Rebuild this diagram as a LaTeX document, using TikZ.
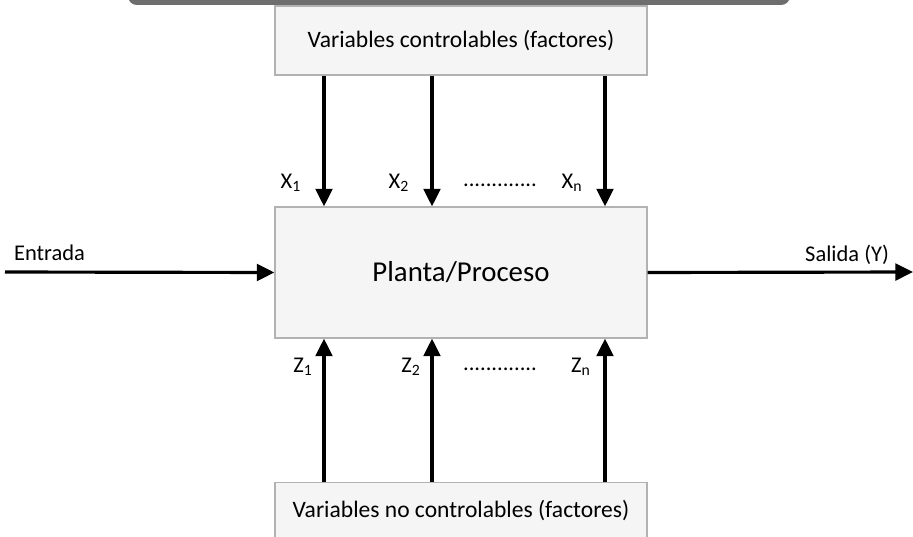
\documentclass[tikz,border=0pt]{standalone}
\usepackage{fontspec}
\setmainfont{Carlito}
\usetikzlibrary{positioning, calc, arrows.meta}

\begin{document}
\begin{tikzpicture}[x=0.02cm,y=-0.02cm,>={Triangle[length=10pt,width=9.5pt]},
    block/.style={draw=black!30, fill=black!4, line width=0.7pt, inner sep=0pt},
    flow/.style={->, line width=1.8pt},
    lbl/.style={font=\fontsize{12.8}{15}\selectfont, inner sep=1pt}]
      \useasboundingbox (0,0) rectangle (913,537);
      % banner strip cut by the top edge
      \fill[black!57, rounded corners=5pt] (128,-20) rectangle (790,5);
      %
      \node[block, minimum width=372*0.02cm, minimum height=69*0.02cm,
            font=\fontsize{13.4}{16}\selectfont] (ctrl) at (461,40.5) {Variables controlables (factores)};
      \node[block, minimum width=372*0.02cm, minimum height=131*0.02cm,
            font=\fontsize{16.4}{19}\selectfont] (plant) at (461,272.5) {Planta/Proceso};
      \node[block, minimum width=372*0.02cm, minimum height=58*0.02cm,
            anchor=north, font=\fontsize{13.4}{16}\selectfont] (noctrl) at (461,482) {};
      \node[font=\fontsize{13.4}{16}\selectfont] (noctrltxt) at (461,511) {Variables no controlables (factores)};
      %
      \coordinate (in) at (5,272);
      \coordinate (out) at (913,272);
      \draw[flow] (in) -- (plant.west);
      \draw[flow] (plant.east) -- (out);
      \node[lbl, anchor=base west] (entrada) at (12,260) {Entrada};
      \node[lbl, anchor=base east] (salida) at (891,261) {Salida (Y)};

      % control and noise inputs
      \foreach \xx/\name in {324/1, 432/2, 605/n} {
        \draw[flow] (ctrl.south -| \xx,0) -- (plant.north -| \xx,0);
        \draw[flow] (noctrl.north -| \xx,0) -- (plant.south -| \xx,0);
      }
      \node[lbl] (x1) at (291,183) {X\textsubscript{1}};
      \node[lbl] (x2) at (399,183) {X\textsubscript{2}};
      \node[lbl] (xn) at (572,183) {X\textsubscript{n}};
      \node[lbl] (xdots) at (500,185) {.............};
      \node[lbl] (z1) at (303,367) {Z\textsubscript{1}};
      \node[lbl] (z2) at (411,367) {Z\textsubscript{2}};
      \node[lbl] (zn) at (581,367) {Z\textsubscript{n}};
      \node[lbl] (zdots) at (500,369) {.............};
  \end{tikzpicture}
\end{document}
